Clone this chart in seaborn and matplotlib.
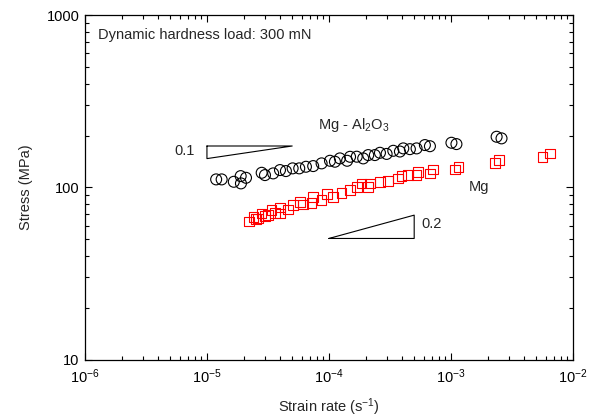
import numpy as np
import pandas as pd
import matplotlib
matplotlib.use("Agg")
import matplotlib.pyplot as plt
import seaborn as sns
from matplotlib.ticker import LogLocator, NullFormatter, FixedLocator, FixedFormatter

# --- dados ---
# Mg - Al2O3 (círculos pretos)
comp_rate = [1.19e-5, 1.32e-5, 1.66e-5, 1.89e-5, 1.90e-5, 2.09e-5, 2.81e-5, 2.99e-5,
             3.49e-5, 3.97e-5, 4.44e-5, 5.04e-5, 5.71e-5, 6.48e-5, 7.43e-5, 8.71e-5,
             1.02e-4, 1.12e-4, 1.23e-4, 1.41e-4, 1.49e-4, 1.69e-4, 1.91e-4, 2.10e-4,
             2.38e-4, 2.62e-4, 2.97e-4, 3.37e-4, 3.82e-4, 4.07e-4, 4.61e-4, 5.23e-4,
             6.12e-4, 6.73e-4, 1.01e-3, 1.11e-3, 2.37e-3, 2.60e-3]
comp_stress = [111.3, 111.3, 107.8, 116.3, 105.5, 113.7, 121.6, 117.9,
               120.6, 126.1, 124.4, 129.0, 129.0, 131.8, 133.0, 137.9,
               142.8, 141.0, 147.4, 142.8, 150.6, 150.8, 147.4, 154.1,
               154.1, 158.9, 156.5, 163.2, 161.6, 168.5, 166.8, 168.5,
               176.2, 173.5, 181.7, 178.5, 196.9, 192.7]

# Mg (quadrados vermelhos)
mg_rate = [2.22e-5, 2.40e-5, 2.52e-5, 2.63e-5, 2.81e-5, 2.99e-5, 3.18e-5, 3.39e-5,
           3.61e-5, 3.97e-5, 3.97e-5, 4.64e-5, 5.10e-5, 5.79e-5, 6.16e-5, 7.21e-5,
           7.43e-5, 8.71e-5, 9.68e-5, 1.08e-4, 1.27e-4, 1.49e-4, 1.69e-4, 1.85e-4,
           2.10e-4, 2.17e-4, 2.62e-4, 3.06e-4, 3.70e-4, 3.94e-4, 4.47e-4, 5.23e-4,
           5.40e-4, 6.73e-4, 7.16e-4, 1.08e-3, 1.15e-3, 2.30e-3, 2.49e-3, 5.65e-3,
           6.48e-3]
mg_stress = [63.5, 67.5, 65.4, 66.0, 70.6, 68.1, 69.0, 73.8,
             70.9, 70.6, 76.5, 74.5, 78.9, 82.5, 79.4, 81.4,
             88.2, 84.4, 91.4, 88.2, 93.0, 96.4, 100.8, 105.5,
             100.8, 105.5, 107.8, 109.3, 112.8, 116.3, 117.9, 117.9,
             123.2, 120.6, 127.3, 127.3, 131.8, 139.0, 144.1, 150.6,
             157.6]

# triângulos de inclinação
tri1_x = [1e-5, 5e-5, 1e-5, 1e-5]
tri1_y = [174.0, 174.0, 147.0, 174.0]
tri2_x = [1e-4, 5e-4, 5e-4, 1e-4]
tri2_y = [50.5, 50.5, 69.0, 50.5]

x_ticks = [1e-6, 1e-5, 1e-4, 1e-3, 1e-2]
x_labels = ["$10^{-6}$", "$10^{-5}$", "$10^{-4}$", "$10^{-3}$", "$10^{-2}$"]
y_ticks = [10, 100, 1000]
y_labels = ["10", "100", "1000"]

df_comp = pd.DataFrame({"rate": comp_rate, "stress": comp_stress})
df_mg = pd.DataFrame({"rate": mg_rate, "stress": mg_stress})

sns.set_theme(style="ticks")
plt.rcParams["font.family"] = ["Liberation Sans", "DejaVu Sans"]
plt.rcParams["mathtext.fontset"] = "custom"
plt.rcParams["mathtext.rm"] = "Liberation Sans"
plt.rcParams["mathtext.it"] = "Liberation Sans"

fig = plt.figure(figsize=(5.9, 4.19), dpi=100)
ax = fig.add_axes([0.144, 0.142, 0.827, 0.8215])

sns.scatterplot(data=df_comp, x="rate", y="stress", marker="o", s=62,
                color="none", edgecolor="black", linewidth=0.8, ax=ax)
sns.scatterplot(data=df_mg, x="rate", y="stress", marker="s", s=48,
                color="none", edgecolor="red", linewidth=0.8, ax=ax)

ax.plot(tri1_x, tri1_y, color="black", lw=0.8)
ax.plot(tri2_x, tri2_y, color="black", lw=0.8)

ax.set_xscale("log")
ax.set_yscale("log")
ax.set_xlim(1e-6, 1e-2)
ax.set_ylim(10, 1000)

ax.xaxis.set_major_locator(FixedLocator(x_ticks))
ax.xaxis.set_major_formatter(FixedFormatter(x_labels))
ax.yaxis.set_major_locator(FixedLocator(y_ticks))
ax.yaxis.set_major_formatter(FixedFormatter(y_labels))
ax.xaxis.set_minor_locator(LogLocator(base=10, subs=np.arange(2, 10), numticks=20))
ax.yaxis.set_minor_locator(LogLocator(base=10, subs=np.arange(2, 10), numticks=20))
ax.xaxis.set_minor_formatter(NullFormatter())
ax.yaxis.set_minor_formatter(NullFormatter())

ax.tick_params(which="both", direction="in", top=True, right=True,
               labelsize=10.5, colors="black", width=0.8)
ax.tick_params(which="major", length=5)
ax.tick_params(axis="x", which="major", pad=6)
ax.tick_params(axis="y", which="major", pad=4)
ax.tick_params(which="minor", length=3)
for sp in ax.spines.values():
    sp.set_linewidth(0.9)
    sp.set_color("black")

ax.set_xlabel("Strain rate (s$^{-1}$)", fontsize=10.5, labelpad=7)
ax.set_ylabel("Stress (MPa)", fontsize=10.5, labelpad=10)

ax.text(0.027, 0.943, "Dynamic hardness load: 300 mN", transform=ax.transAxes,
        fontsize=10.5, va="center", ha="left")
ax.text(8.1e-5, 230, "Mg - Al$_2$O$_3$", fontsize=10.5, va="center", ha="left")
ax.text(1.70e-3, 100.4, "Mg", fontsize=10.5, va="center", ha="center")
ax.text(6.5e-6, 162.6, "0.1", fontsize=10.5, va="center", ha="center")
ax.text(6.95e-4, 61.2, "0.2", fontsize=10.5, va="center", ha="center")

fig.savefig("out.png", dpi=100, facecolor="white")
